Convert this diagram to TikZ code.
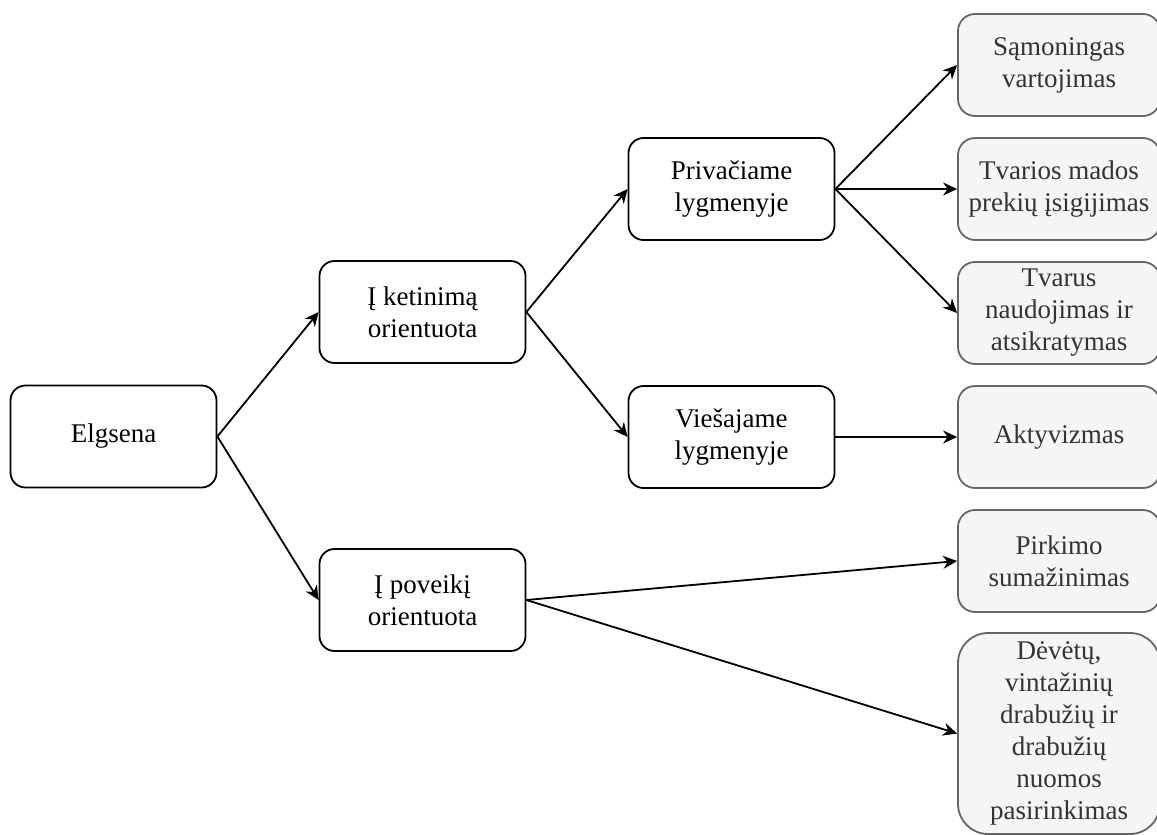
\documentclass[tikz,border=0pt]{standalone}
\usepackage{fontspec}
\setmainfont{Liberation Serif}
\usetikzlibrary{arrows.meta}
\definecolor{leafline}{HTML}{666666}
\definecolor{leaffill}{HTML}{F5F5F5}
\definecolor{leaftext}{HTML}{333333}
\begin{document}
\begin{tikzpicture}[x=1pt,y=-1pt,
  box/.style={draw=black, fill=white, text=black, line width=1.8pt,
    rounded corners=15pt, align=center, inner sep=0pt,
    minimum width=206pt, minimum height=102pt,
    font=\fontsize{27}{32}\selectfont},
  leaf/.style={draw=leafline, fill=leaffill, text=leaftext, line width=1.8pt,
    rounded corners=17pt, align=center, inner sep=0pt,
    minimum width=202pt, minimum height=102pt,
    font=\fontsize{27}{32}\selectfont},
  link/.style={line width=1.8pt, -{Stealth[length=14pt,width=13pt,inset=4.5pt]}}
]
\useasboundingbox (0,0) rectangle (1157,835);

% first and second level
\node[box] (elg) at (113.5,436.5) {Elgsena};
\node[box] (ket) at (422.5,312) {Į ketinimą\\orientuota};
\node[box] (pov) at (422.5,600) {Į poveikį\\orientuota};

% third level
\node[box] (priv) at (731.5,189) {Privačiame\\lygmenyje};
\node[box] (vies) at (731.5,437) {Viešajame\\lygmenyje};

% leaves
\node[leaf] (sam) at (1059,65) {Sąmoningas\\vartojimas};
\node[leaf] (tvm) at (1059,189) {Tvarios mados\\prekių įsigijimas};
\node[leaf] (tvn) at (1059,313) {Tvarus\\naudojimas ir\\atsikratymas};
\node[leaf] (akt) at (1059,437) {Aktyvizmas};
\node[leaf] (pir) at (1059,561) {Pirkimo\\sumažinimas};
\node[leaf, minimum height=201pt, rounded corners=30pt] (dev) at (1059,733.5)
  {Dėvėtų,\\vintažinių\\drabužių ir\\drabužių\\nuomos\\pasirinkimas};

% connectors
\draw[link] (elg.east) -- (ket.west);
\draw[link] (elg.east) -- (pov.west);
\draw[link] (ket.east) -- (priv.west);
\draw[link] (ket.east) -- (vies.west);
\draw[link] (priv.east) -- (sam.west);
\draw[link] (priv.east) -- (tvm.west);
\draw[link] (priv.east) -- (tvn.west);
\draw[link] (vies.east) -- (akt.west);
\draw[link] (pov.east) -- (pir.west);
\draw[link] (pov.east) -- (dev.west);
\end{tikzpicture}
\end{document}
